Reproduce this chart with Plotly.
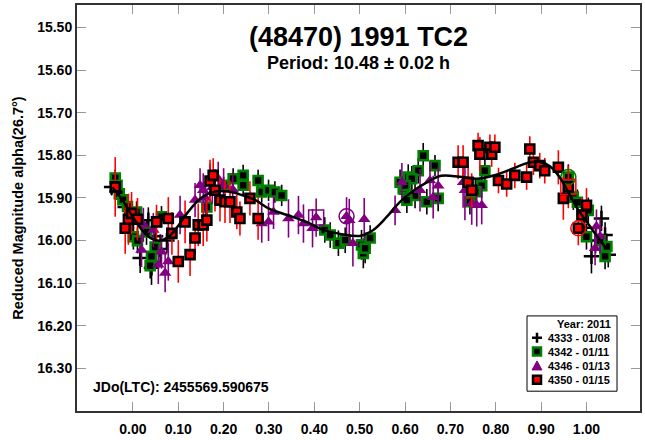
import plotly.graph_objects as go

# Rotational phase, reduced magnitude and 1-sigma error for each session
s4333_phase = [-0.047, -0.035, -0.017, 0.000, 0.016, 0.034, 0.041, 0.050, 0.060, 0.075,
               0.995, 1.011, 1.020, 1.033, 1.041, 1.048]
s4333_mag = [15.874, 15.885, 15.921, 15.960, 16.041, 15.952, 16.064, 15.990, 16.020, 16.000,
             15.970, 16.037, 16.000, 15.948, 15.987, 16.033]
s4333_err = [0.02, 0.02, 0.03, 0.03, 0.035, 0.03, 0.04, 0.03, 0.035, 0.03,
             0.03, 0.04, 0.03, 0.03, 0.03, 0.03]

s4342_phase = [-0.039, -0.035, -0.030, -0.022, -0.012, 0.008, 0.001, 0.010, 0.030, 0.041,
               0.038, 0.049, 0.063, 0.163, 0.200, 0.221, 0.243, 0.243, 0.276, 0.284,
               0.299, 0.313, 0.328, 0.423, 0.435, 0.453, 0.468, 0.504, 0.508, 0.512,
               0.523, 0.589, 0.596, 0.607, 0.640, 0.666, 0.629, 0.615, 0.600, 0.622,
               0.604, 0.648, 0.673, 0.776, 0.769, 0.743, 0.755, 0.960, 0.971, 0.980,
               1.004, 1.000, 1.045, 1.041, 1.030]
s4342_mag = [15.853, 15.870, 15.890, 15.904, 15.920, 15.933, 15.991, 16.000, 15.980, 16.037,
             16.059, 16.015, 15.944, 15.921, 15.870, 15.855, 15.847, 15.870, 15.859, 15.886,
             15.882, 15.886, 15.894, 15.975, 15.987, 16.006, 15.999, 16.010, 16.030, 16.018,
             15.994, 15.863, 15.878, 15.851, 15.801, 15.824, 15.836, 15.855, 15.871, 15.894,
             15.905, 15.909, 15.901, 15.836, 15.871, 15.909, 15.885, 15.851, 15.898, 15.910,
             15.929, 15.991, 16.014, 16.037, 16.000]
s4342_err = [0.02, 0.02, 0.02, 0.02, 0.02, 0.025, 0.03, 0.03, 0.03, 0.03,
             0.03, 0.03, 0.025, 0.025, 0.02, 0.025, 0.025, 0.025, 0.025, 0.025,
             0.025, 0.025, 0.025, 0.03, 0.03, 0.03, 0.03, 0.035, 0.035, 0.035,
             0.03, 0.03, 0.03, 0.03, 0.03, 0.025, 0.03, 0.03, 0.03, 0.03,
             0.03, 0.03, 0.03, 0.03, 0.03, 0.03, 0.03, 0.03, 0.03, 0.03,
             0.03, 0.03, 0.03, 0.03, 0.03]

s4346_phase = [0.019, 0.023, 0.045, 0.056, 0.063, 0.071, 0.078, 0.104, 0.137, 0.148,
               0.155, 0.160, 0.170, 0.175, 0.188, 0.200, 0.220, 0.284, 0.299, 0.310,
               0.343, 0.365, 0.376, 0.396, 0.404, 0.471, 0.477, 0.485, 0.510, 0.578,
               0.593, 0.633, 0.655, 0.662, 0.673, 0.728, 0.732, 0.747, 0.758, 0.769,
               1.019, 1.022, 1.030]
s4346_mag = [16.022, 15.963, 15.975, 16.057, 16.026, 16.076, 16.049, 15.940, 15.905, 15.870,
             15.882, 15.900, 15.859, 15.875, 15.855, 15.870, 15.880, 15.960, 15.956, 15.933,
             15.948, 15.940, 15.960, 15.971, 15.946, 15.943, 15.952, 16.006, 15.950, 15.929,
             15.863, 15.882, 15.859, 15.898, 15.871, 15.863, 15.882, 15.913, 15.917, 15.917,
             16.018, 15.967, 15.990]
s4346_err = [0.04, 0.04, 0.04, 0.045, 0.04, 0.045, 0.045, 0.045, 0.04, 0.04,
             0.04, 0.04, 0.04, 0.04, 0.04, 0.04, 0.04, 0.045, 0.045, 0.04,
             0.045, 0.045, 0.045, 0.045, 0.045, 0.045, 0.05, 0.055, 0.05, 0.035,
             0.045, 0.05, 0.045, 0.05, 0.045, 0.06, 0.07, 0.05, 0.05, 0.045,
             0.04, 0.04, 0.04]

s4350_phase = [-0.039, -0.017, -0.010, -0.003, 0.010, 0.052, 0.078, 0.086, 0.100, 0.115,
               0.126, 0.137, 0.144, 0.155, 0.163, 0.170, 0.177, 0.181, 0.192, 0.203,
               0.214, 0.229, 0.236, 0.258, 0.276, 0.717, 0.728, 0.739, 0.747, 0.761,
               0.765, 0.787, 0.791, 0.798, 0.806, 0.824, 0.842, 0.868, 0.875, 0.883,
               0.897, 0.908, 0.938, 0.949, 0.960, 0.982, 0.990, 1.000]
s4350_mag = [15.874, 15.971, 15.950, 15.936, 15.950, 15.956, 15.948, 15.983, 16.049, 15.956,
             16.033, 15.994, 15.963, 15.963, 15.952, 15.860, 15.847, 15.882, 15.905, 15.909,
             15.909, 15.933, 15.948, 15.901, 15.948, 15.816, 15.816, 15.863, 15.882, 15.777,
             15.797, 15.781, 15.797, 15.781, 15.859, 15.867, 15.847, 15.851, 15.785, 15.816,
             15.824, 15.836, 15.828, 15.901, 15.874, 15.971, 15.940, 15.917]
s4350_err = [0.07, 0.06, 0.06, 0.05, 0.05, 0.04, 0.05, 0.05, 0.05, 0.05,
             0.05, 0.04, 0.05, 0.05, 0.05, 0.05, 0.04, 0.05, 0.05, 0.05,
             0.05, 0.04, 0.04, 0.04, 0.05, 0.04, 0.04, 0.04, 0.04, 0.03,
             0.04, 0.03, 0.03, 0.03, 0.03, 0.03, 0.03, 0.03, 0.03, 0.03,
             0.03, 0.03, 0.04, 0.05, 0.05, 0.04, 0.04, 0.04]

# Flagged observations drawn with open symbols
flag_phase = [0.404, 0.471, 0.960, 0.960, 0.982]
flag_mag = [15.946, 15.943, 15.851, 15.874, 15.971]
flag_color = ["#800080", "#800080", "#008000", "#ff0000", "#ff0000"]
flag_symbol = ["square-open", "circle-open", "circle-open", "square-open", "circle-open"]

# Fourier fit of the lightcurve
fit_phase = [-0.045, -0.02, 0.00, 0.02, 0.04, 0.06, 0.08, 0.10, 0.12, 0.15,
             0.18, 0.21, 0.24, 0.27, 0.30, 0.34, 0.38, 0.42, 0.46, 0.50,
             0.53, 0.56, 0.59, 0.62, 0.65, 0.68, 0.72, 0.76, 0.80, 0.84,
             0.87, 0.90, 0.92, 0.94, 0.96, 0.98, 1.00, 1.02, 1.045]
fit_mag = [15.875, 15.910, 15.945, 15.975, 15.995, 16.000, 15.990, 15.965, 15.935, 15.900,
           15.885, 15.885, 15.893, 15.905, 15.925, 15.940, 15.955, 15.975, 15.985, 15.989,
           15.975, 15.944, 15.908, 15.882, 15.862, 15.848, 15.850, 15.855, 15.846, 15.830,
           15.818, 15.816, 15.826, 15.850, 15.886, 15.925, 15.955, 15.985, 16.020]

x_ticks = [0.0, 0.1, 0.2, 0.3, 0.4, 0.5, 0.6, 0.7, 0.8, 0.9, 1.0]
y_ticks = [15.5, 15.6, 15.7, 15.8, 15.9, 16.0, 16.1, 16.2, 16.3]

legend_title = "Year: 2011"
legend_labels = ["4333 - 01/08", "4342 - 01/11", "4346 - 01/13", "4350 - 01/15"]

FONT = "Liberation Sans, Arial, sans-serif"
W, H = 645, 440
ML, MR, MT, MB = 77, 5, 3, 27
PW, PH = W - ML - MR, H - MT - MB


def px_x(px):
    return (px - ML) / PW


def px_y(py):
    return (H - MB - py) / PH


def err(values, color):
    return dict(type="data", array=values, visible=True, color=color,
                thickness=1.6, width=0)


fig = go.Figure()

fig.add_trace(go.Scatter(
    x=s4333_phase, y=s4333_mag, mode="markers", name=legend_labels[0],
    error_y=err(s4333_err, "black"),
    marker=dict(symbol="cross-thin", size=11, color="black",
                line=dict(color="black", width=2.5)),
))
fig.add_trace(go.Scatter(
    x=s4342_phase, y=s4342_mag, mode="markers", name=legend_labels[1],
    error_y=err(s4342_err, "black"),
    marker=dict(symbol="square", size=9, color="black",
                line=dict(color="#008000", width=2.6)),
))
fig.add_trace(go.Scatter(
    x=s4346_phase, y=s4346_mag, mode="markers", name=legend_labels[2],
    error_y=err(s4346_err, "#800080"),
    marker=dict(symbol="triangle-up", size=11, color="#800080",
                line=dict(width=0)),
))
fig.add_trace(go.Scatter(
    x=s4350_phase, y=s4350_mag, mode="markers", name=legend_labels[3],
    error_y=err(s4350_err, "#ff0000"),
    marker=dict(symbol="square", size=9, color="#ff0000",
                line=dict(color="black", width=2.6)),
))
fig.add_trace(go.Scatter(
    x=flag_phase, y=flag_mag, mode="markers", showlegend=False, hoverinfo="skip",
    marker=dict(symbol=flag_symbol, size=15, color=flag_color,
                line=dict(color=flag_color, width=1.5)),
))
fig.add_trace(go.Scatter(
    x=fit_phase, y=fit_mag, mode="lines", showlegend=False, hoverinfo="skip",
    line=dict(color="black", width=2.5, shape="spline", smoothing=1.0),
))

axis_common = dict(
    showgrid=False, zeroline=False, showline=True, linecolor="#333333", linewidth=2,
    mirror="allticks", ticks="inside", ticklen=9, tickwidth=1.2, tickcolor="#999999",
    tickfont=dict(family=FONT, size=14, color="black", weight="bold"),
    tickformat=".2f",
)

# Boxed key in the lower right corner, drawn as shapes and text
box_l, box_r, box_t, box_b = 527, 617, 317, 393
row_y = [339, 353, 367.5, 381.5]
mark_x = 537
text_x = 546

shapes = [dict(type="rect", xref="paper", yref="paper", layer="above",
               x0=px_x(box_l), x1=px_x(box_r), y0=px_y(box_b), y1=px_y(box_t),
               line=dict(color="black", width=1), fillcolor="white")]


def key_shape(kind, py):
    base = dict(xref="paper", yref="paper", xsizemode="pixel", ysizemode="pixel",
                xanchor=px_x(mark_x), yanchor=px_y(py), layer="above")
    if kind == "plus":
        base.update(type="path", path="M-5,0 L5,0 M0,-5 L0,5",
                    line=dict(color="black", width=2.5))
    elif kind == "tri":
        base.update(type="path", path="M-5,-4 L5,-4 L0,5 Z",
                    fillcolor="#800080", line=dict(color="#800080", width=1))
    else:
        fill, edge = kind
        base.update(type="rect", x0=-4, x1=4, y0=-4, y1=4,
                    fillcolor=fill, line=dict(color=edge, width=2.5))
    return base


key_kinds = ["plus", ("black", "#008000"), "tri", ("#ff0000", "black")]
for kind, py in zip(key_kinds, row_y):
    shapes.append(key_shape(kind, py))

key_font = dict(family=FONT, size=11, color="black", weight="bold")
annotations = [
    dict(text="(48470) 1991 TC2", x=0.5, y=px_y(35), xref="paper", yref="paper",
         yanchor="middle", showarrow=False, font=dict(family=FONT, size=27, weight="bold")),
    dict(text="Period: 10.48 ± 0.02 h", x=0.5, y=px_y(62), xref="paper", yref="paper",
         yanchor="middle", showarrow=False, font=dict(family=FONT, size=18, weight="bold")),
    dict(text="JDo(LTC): 2455569.590675", x=px_x(91), y=px_y(389), xref="paper", yref="paper",
         xanchor="left", yanchor="middle", showarrow=False,
         font=dict(family=FONT, size=14, weight="bold")),
    dict(text=legend_title, x=px_x(584), y=px_y(325), xref="paper", yref="paper",
         xanchor="center", yanchor="middle", showarrow=False, font=key_font),
]
for label, py in zip(legend_labels, row_y):
    annotations.append(dict(text=label, x=px_x(text_x), y=px_y(py), xref="paper", yref="paper",
                            xanchor="left", yanchor="middle", showarrow=False, font=key_font))

fig.update_layout(
    width=W, height=H,
    margin=dict(l=ML, r=MR, t=MT, b=MB),
    paper_bgcolor="white", plot_bgcolor="white",
    font=dict(family=FONT, color="black"),
    showlegend=False,
    xaxis=dict(range=[-0.1233, 1.118], tickvals=x_ticks, ticklabelstandoff=4, **axis_common),
    yaxis=dict(range=[16.40, 15.447], tickvals=y_ticks,
               title=dict(text="Reduced Magnitude alpha(26.7°)", standoff=10,
                          font=dict(family=FONT, size=14.5, color="black", weight="bold")),
               **axis_common),
    shapes=shapes,
    annotations=annotations,
)

fig.write_html("out.html")
